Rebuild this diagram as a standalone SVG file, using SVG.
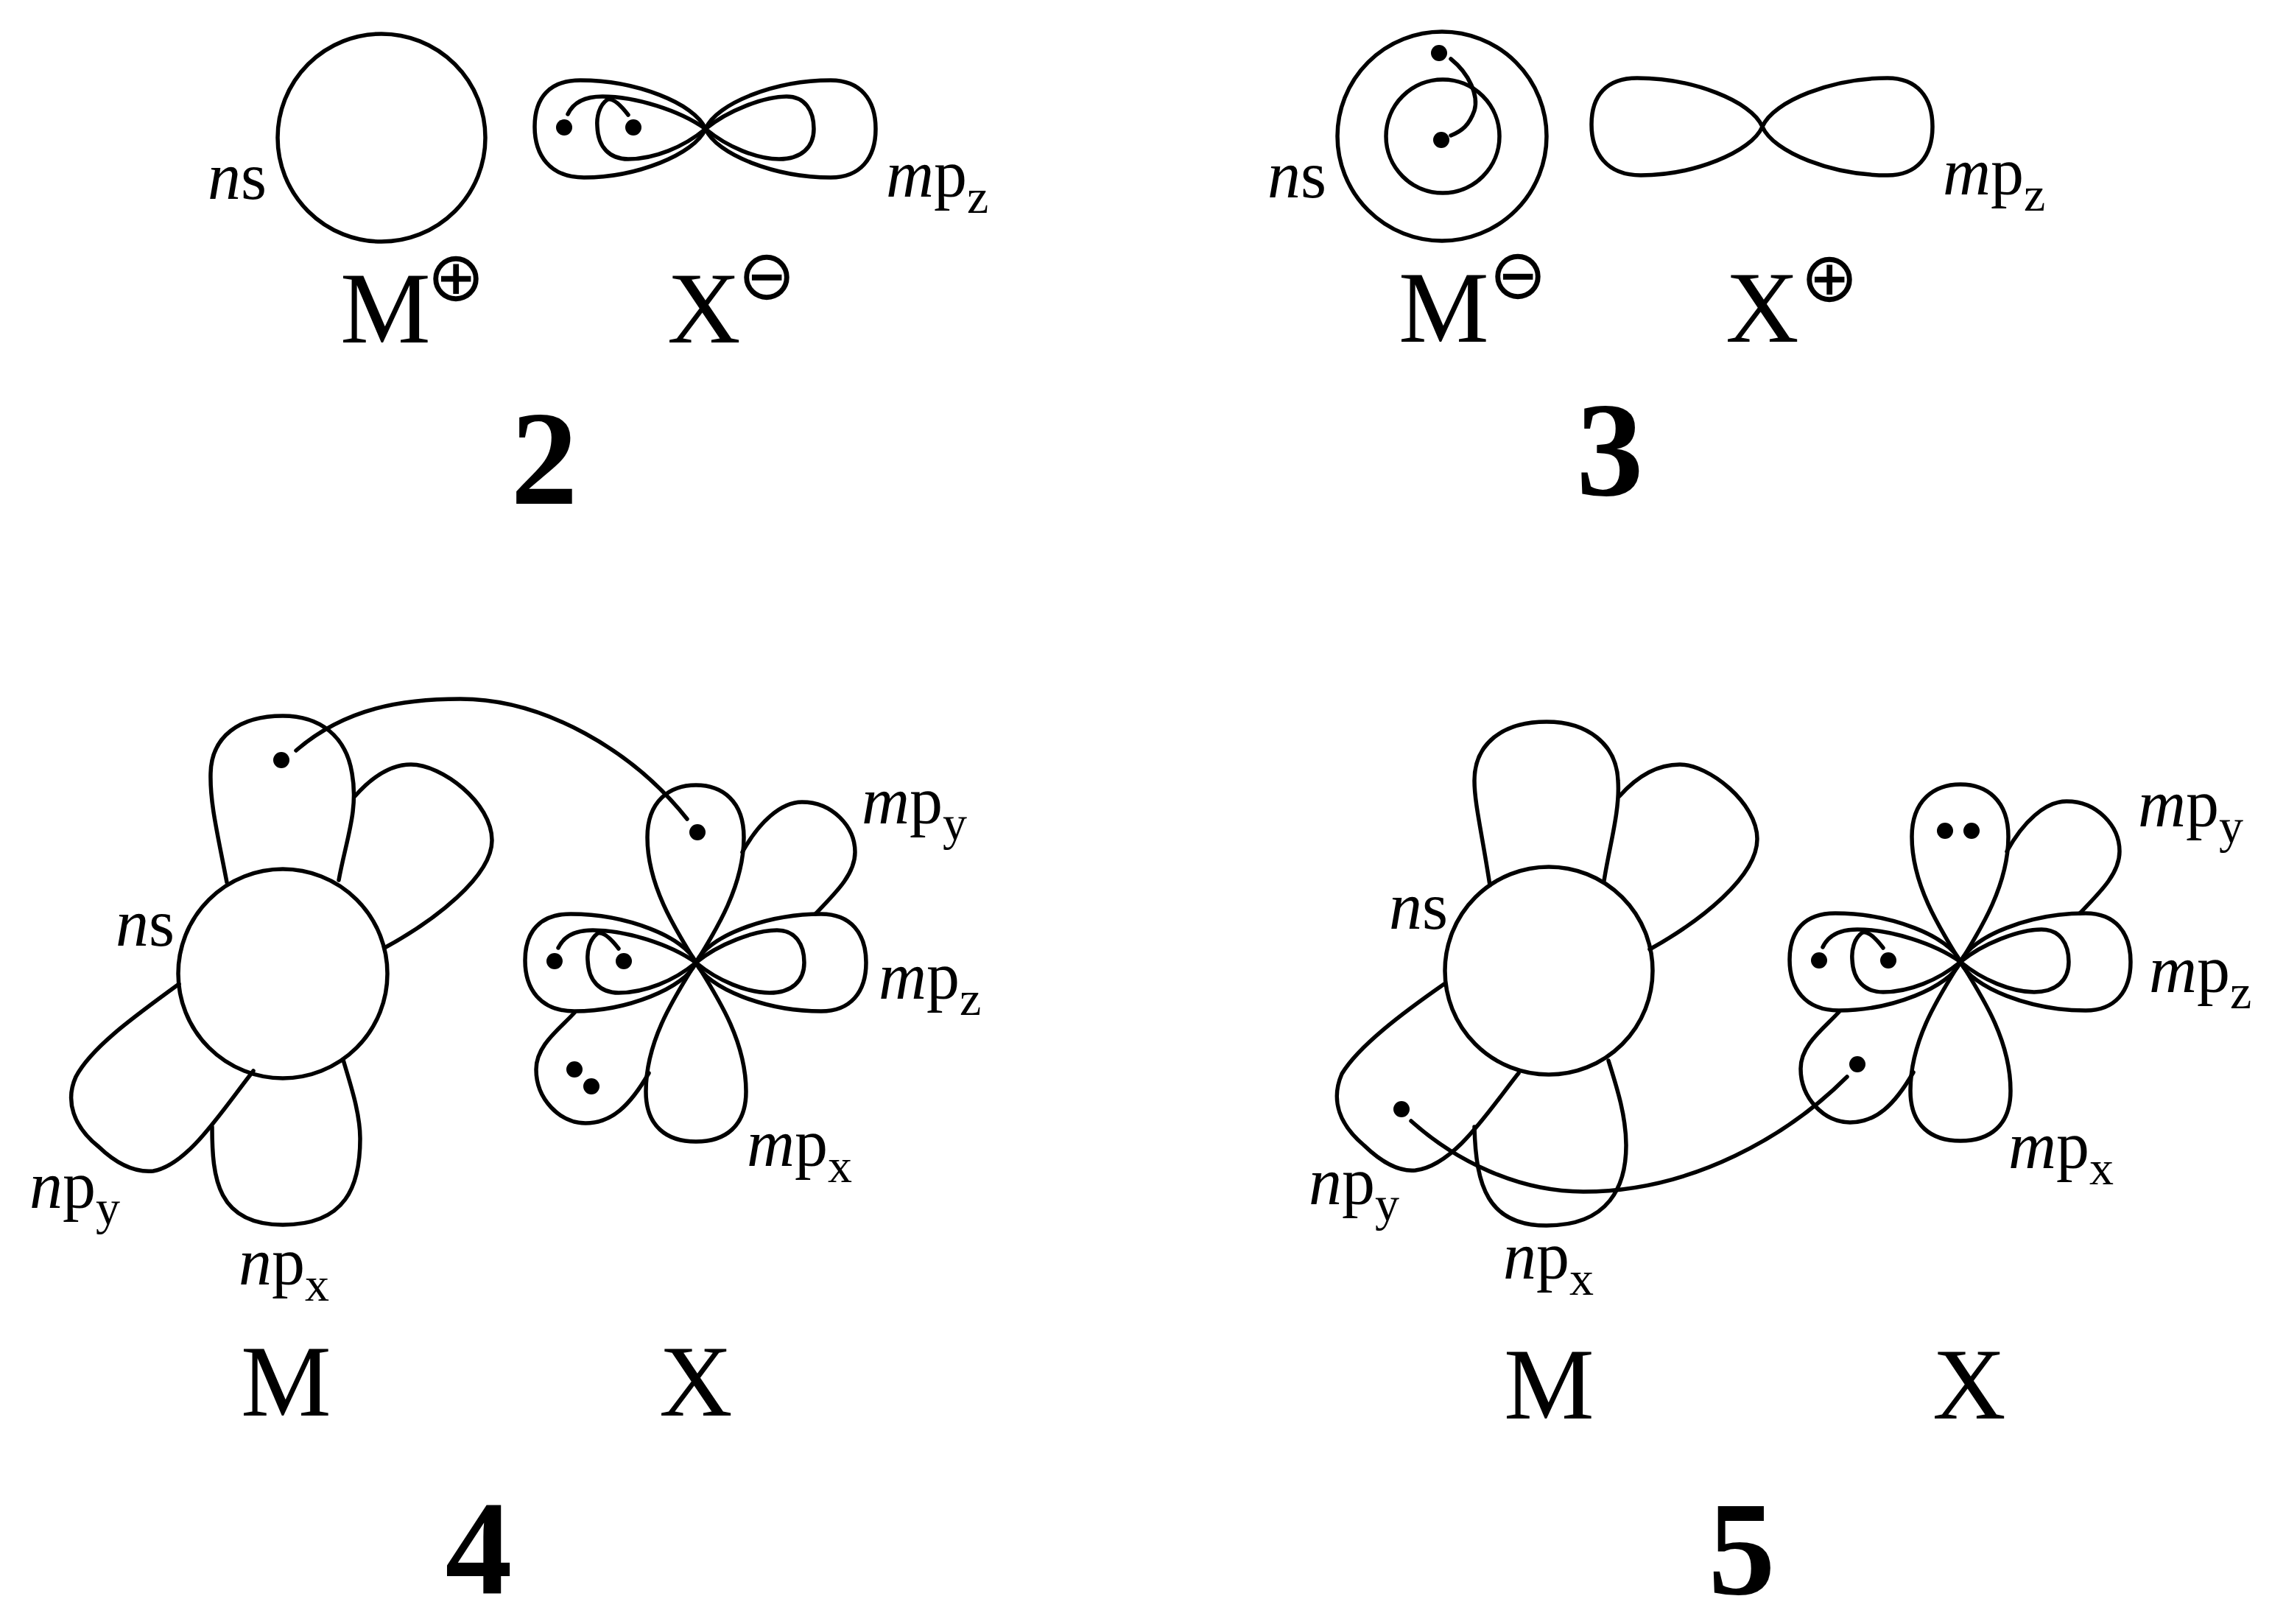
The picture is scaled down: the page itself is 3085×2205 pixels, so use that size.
<svg xmlns="http://www.w3.org/2000/svg" width="3085" height="2205" viewBox="0 0 3085 2205">
<style>
.l{fill:none;stroke:#000;stroke-width:5.5;stroke-linecap:round;stroke-linejoin:round}
.d{fill:#000}
text{font-family:"Liberation Serif","Times New Roman",serif;fill:#000}
.o{font-size:90px}
.i{font-style:italic}
.s{font-size:66px}
.a{font-size:138px}
.c{font-family:"DejaVu Sans",sans-serif;font-size:94px;text-anchor:middle}
.b{font-size:182px;font-weight:bold;text-anchor:middle}
</style>
<defs>
<g id="eight">
<path class="l" d="M0,0 C-15,-35 -95,-66 -170,-66 C-212,-66 -232,-42 -232,-3 C-232,35 -212,66 -165,66 C-95,66 -15,35 0,0 C15,-35 95,-66 170,-66 C210,-66 231,-40 231,0 C231,40 210,66 170,66 C95,66 15,35 0,0Z"/>
</g>
<g id="inner">
<path class="l" d="M0,0 C30,-25 80,-44 110,-44 C135,-44 147,-25 147,0 C147,25 130,41 100,41 C70,41 30,25 0,0"/>
<path class="l" d="M-105,-19 C-115,-32 -125,-42 -133,-40 C-145,-32 -148,-15 -147,-3 C-146,25 -130,41 -105,41 C-70,41 -30,25 0,0"/>
<path class="l" d="M-187,-20 C-180,-35 -165,-44 -140,-44 C-95,-44 -35,-25 0,0"/>
<circle class="d" cx="-192" cy="-2" r="11"/>
<circle class="d" cx="-98" cy="-2" r="11"/>
</g>
<g id="petals">
<path class="l" d="M0,0 C-28,-45 -66,-105 -66,-170 C-66,-220 -35,-241 0,-241 C35,-241 65,-220 65,-170 C65,-105 28,-45 0,0"/>
<path class="l" d="M0,0 C-28,45 -68,105 -68,175 C-68,222 -40,243 0,243 C40,243 68,222 68,175 C68,105 28,45 0,0"/>
<path class="l" d="M63,-150 C85,-190 115,-218 144,-218 C185,-218 216,-185 216,-150 C216,-120 190,-95 162,-66"/>
<path class="l" d="M-165,68 C-185,90 -217,112 -217,145 C-217,185 -185,218 -150,218 C-115,218 -90,195 -64,150"/>
</g>
</defs>

<g id="panel-2">
<circle class="l" cx="518" cy="187" r="141"/>
<use href="#eight" x="958" y="175"/>
<use href="#inner" x="958" y="175"/>
<text class="o" x="282" y="270"><tspan class="i">n</tspan>s</text>
<text class="o" x="1203" y="267"><tspan class="i">m</tspan>p<tspan class="s" dy="22">z</tspan></text>
<text class="a" x="462" y="465">M</text>
<text class="c" x="619" y="408">⊕</text>
<text class="a" x="906" y="465">X</text>
<text class="c" x="1041" y="406">⊖</text>
<text class="b" x="739" y="684">2</text>
</g>

<g id="panel-3">
<circle class="l" cx="1958" cy="185" r="142"/>
<circle class="l" cx="1959" cy="185" r="77"/>
<use href="#eight" x="2393" y="172"/>
<circle class="d" cx="1954" cy="72" r="11"/>
<circle class="d" cx="1957" cy="190" r="11"/>
<text class="o" x="1721" y="268"><tspan class="i">n</tspan>s</text>
<text class="o" x="2638" y="264"><tspan class="i">m</tspan>p<tspan class="s" dy="22">z</tspan></text>
<text class="a" x="1899" y="464">M</text>
<text class="c" x="2061" y="405">⊖</text>
<text class="a" x="2343" y="464">X</text>
<text class="c" x="2484" y="409">⊕</text>
<text class="b" x="2186" y="672">3</text>
</g>

<g id="panel-4">
<g id="M4">
<circle class="l" cx="384" cy="1322" r="142"/>
<path class="l" d="M308,1198 C295,1130 285,1090 286,1050 C287,1000 325,972 384,972 C435,972 470,1000 478,1050 C487,1100 470,1140 460,1195"/>
<path class="l" d="M482,1081 C505,1055 530,1038 558,1038 C600,1038 668,1090 668,1141 C668,1190 590,1250 522,1287"/>
<path class="l" d="M243,1336 C190,1375 125,1420 103,1462 C88,1495 100,1530 134,1557 C160,1582 185,1592 208,1590 C255,1582 300,1510 344,1454"/>
<path class="l" d="M288,1530 C288,1600 295,1663 384,1663 C470,1663 489,1610 489,1546 C489,1510 475,1470 466,1439"/>
<circle class="d" cx="382" cy="1032" r="11"/>
</g>
<g id="X4">
<use href="#eight" x="945" y="1307"/>
<use href="#inner" x="945" y="1307"/>
<use href="#petals" x="945" y="1307"/>
<circle class="d" cx="947" cy="1130" r="11"/>
<circle class="d" cx="780" cy="1452" r="11"/>
<circle class="d" cx="803" cy="1475" r="11"/>
</g>
<text class="o" x="157" y="1284"><tspan class="i">n</tspan>s</text>
<text class="o" x="1170" y="1118"><tspan class="i">m</tspan>p<tspan class="s" dy="22">y</tspan></text>
<text class="o" x="1193" y="1356"><tspan class="i">m</tspan>p<tspan class="s" dy="22">z</tspan></text>
<text class="o" x="1014" y="1583"><tspan class="i">m</tspan>p<tspan class="s" dy="22">x</tspan></text>
<text class="o" x="40" y="1640"><tspan class="i">n</tspan>p<tspan class="s" dy="22">y</tspan></text>
<text class="o" x="324" y="1744"><tspan class="i">n</tspan>p<tspan class="s" dy="22">x</tspan></text>
<text class="a" x="327" y="1922">M</text>
<text class="a" x="895" y="1922">X</text>
<text class="b" x="650" y="2164">4</text>
</g>

<g id="panel-5">
<g id="M5">
<circle class="l" cx="2103" cy="1318" r="141"/>
<path class="l" d="M2023,1202 C2012,1130 2002,1090 2002,1060 C2002,1010 2040,980 2100,980 C2155,980 2195,1010 2197,1060 C2200,1100 2185,1150 2178,1196"/>
<path class="l" d="M2199,1081 C2222,1055 2250,1038 2281,1038 C2320,1038 2386,1090 2386,1139 C2386,1190 2310,1250 2240,1289"/>
<path class="l" d="M1961,1336 C1905,1375 1845,1420 1822,1458 C1806,1495 1820,1528 1852,1555 C1878,1580 1900,1591 1922,1589 C1975,1582 2020,1510 2062,1457"/>
<path class="l" d="M2002,1530 C2004,1610 2020,1664 2100,1664 C2185,1664 2208,1610 2208,1555 C2208,1515 2195,1475 2184,1440"/>
<circle class="d" cx="1903" cy="1506" r="11"/>
</g>
<g id="X5">
<use href="#eight" x="2662" y="1306"/>
<use href="#inner" x="2662" y="1306"/>
<use href="#petals" x="2662" y="1306"/>
<circle class="d" cx="2641" cy="1128" r="11"/>
<circle class="d" cx="2677" cy="1128" r="11"/>
<circle class="d" cx="2522" cy="1445" r="11"/>
</g>
<text class="o" x="1886" y="1261"><tspan class="i">n</tspan>s</text>
<text class="o" x="2903" y="1122"><tspan class="i">m</tspan>p<tspan class="s" dy="22">y</tspan></text>
<text class="o" x="2918" y="1347"><tspan class="i">m</tspan>p<tspan class="s" dy="22">z</tspan></text>
<text class="o" x="2727" y="1586"><tspan class="i">m</tspan>p<tspan class="s" dy="22">x</tspan></text>
<text class="o" x="1777" y="1635"><tspan class="i">n</tspan>p<tspan class="s" dy="22">y</tspan></text>
<text class="o" x="2041" y="1736"><tspan class="i">n</tspan>p<tspan class="s" dy="22">x</tspan></text>
<text class="a" x="2042" y="1926">M</text>
<text class="a" x="2624" y="1926">X</text>
<text class="b" x="2365" y="2164">5</text>
</g>

<g id="connectors">
<path class="l" d="M1970,80 C1995,100 2008,130 2002,150 C1995,170 1985,178 1970,184"/>
<path class="l" d="M402,1019 C470,960 550,949 625,949 C740,949 860,1020 933,1112"/>
<path class="l" d="M1916,1522 C1975,1575 2060,1618 2150,1618 C2300,1618 2430,1540 2508,1462"/>
</g>
</svg>
